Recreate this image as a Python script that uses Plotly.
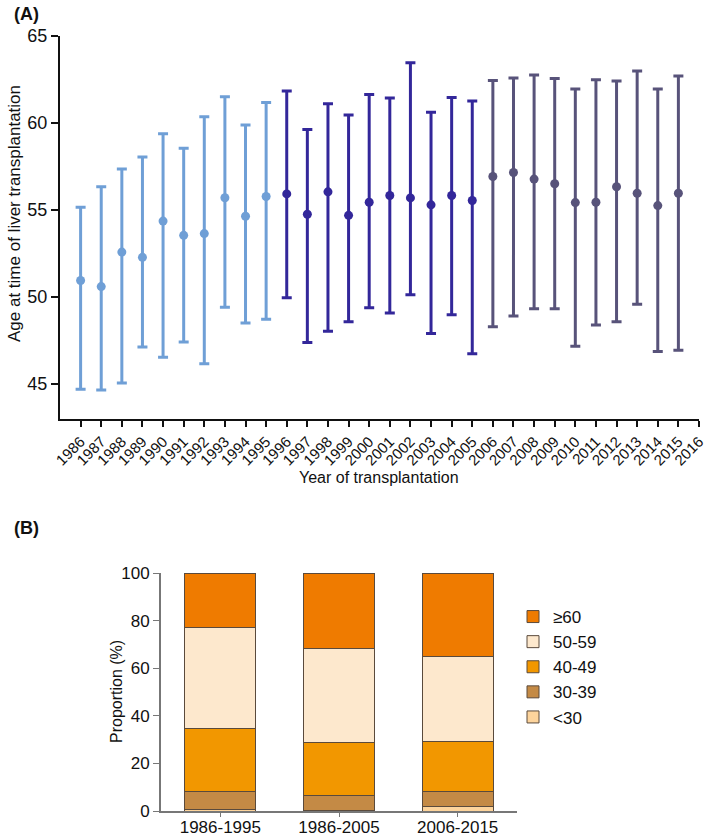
import plotly.graph_objects as go

# ---------------- Panel A data ----------------
years = list(range(1986, 2016))
mean_age = [50.95, 50.60, 52.58, 52.28, 54.36, 53.54, 53.64, 55.70, 54.64, 55.77,
            55.92, 54.75, 56.04, 54.69, 55.44, 55.83, 55.69, 55.29, 55.83, 55.54,
            56.92, 57.15, 56.77, 56.50, 55.42, 55.44, 56.33, 55.96, 55.25, 55.96]
upper_age = [55.15, 56.33, 57.35, 58.04, 59.37, 58.54, 60.35, 61.50, 59.87, 61.17,
             61.83, 59.62, 61.10, 60.45, 61.62, 61.42, 63.45, 60.60, 61.45, 61.25,
             62.43, 62.57, 62.74, 62.55, 61.94, 62.47, 62.40, 62.98, 61.94, 62.68]
lower_age = [44.71, 44.67, 45.06, 47.13, 46.55, 47.42, 46.17, 49.41, 48.51, 48.72,
             49.96, 47.39, 48.03, 48.58, 49.39, 49.08, 50.13, 47.91, 48.98, 46.74,
             48.30, 48.91, 49.33, 49.33, 47.18, 48.39, 48.58, 49.58, 46.88, 46.95]
tick_years = list(range(1986, 2017))
group_colors = ["#6f9fd6", "#33279a", "#58537a"]

# ---------------- Panel B data ----------------
periods = ["1986-1995", "1986-2005", "2006-2015"]
age_groups = ["<30", "30-39", "40-49", "50-59", "≥60"]
pct_lt30 = [0.7, 0.3, 2.0]
pct_30_39 = [7.3, 6.3, 6.4]
pct_40_49 = [26.7, 22.1, 20.8]
pct_50_59 = [42.4, 39.6, 35.6]
pct_ge60 = [22.9, 31.7, 35.2]
bar_colors = ["#fdd49c", "#c48a45", "#f29700", "#fde8cd", "#ef7b00"]

W, H = 709, 837
FONT = "Liberation Sans, Arial, Helvetica, sans-serif"

fig = go.Figure()

for g in range(3):
    sl = slice(g * 10, g * 10 + 10)
    xs = years[sl]
    ms = mean_age[sl]
    up = [u - m for u, m in zip(upper_age[sl], ms)]
    lo = [m - l for m, l in zip(ms, lower_age[sl])]
    fig.add_trace(go.Scatter(
        x=xs, y=ms, mode="markers",
        marker=dict(color=group_colors[g], size=9),
        error_y=dict(type="data", symmetric=False, array=up, arrayminus=lo,
                     color=group_colors[g], thickness=3, width=5),
        showlegend=False, xaxis="x", yaxis="y"))

stack = [pct_lt30, pct_30_39, pct_40_49, pct_50_59, pct_ge60]
for name, vals, col in zip(age_groups, stack, bar_colors):
    fig.add_trace(go.Bar(
        x=periods, y=vals, name=name, width=0.6,
        marker=dict(color=col, line=dict(color="#5a4a3c", width=1)),
        xaxis="x2", yaxis="y2"))

def px_x(p):
    return p / W

def px_y(p):
    return 1 - p / H

fig.update_layout(
    template="none",
    width=W, height=H, margin=dict(l=0, r=0, t=0, b=0, autoexpand=False),
    paper_bgcolor="white", plot_bgcolor="white",
    font=dict(family=FONT, color="#111111"),
    barmode="stack",
    xaxis=dict(domain=[px_x(60), px_x(699)], range=[1985, 2016],
               tickmode="array", tickvals=tick_years,
               ticktext=[str(y) for y in tick_years],
               tickangle=-45, tickfont=dict(size=15),
               showline=True, linecolor="#111111", linewidth=2,
               ticks="outside", ticklen=6, tickwidth=1.5, tickcolor="#111111",
               showgrid=False, zeroline=False, anchor="y", automargin=False),
    yaxis=dict(domain=[px_y(419), px_y(35.7)], range=[43, 65],
               tickvals=[45, 50, 55, 60, 65], tickfont=dict(size=18),
               showline=True, linecolor="#111111", linewidth=2,
               ticks="outside", ticklen=7, tickwidth=1.5, tickcolor="#111111",
               showgrid=False, zeroline=False, anchor="x", automargin=False),
    xaxis2=dict(domain=[px_x(161), px_x(517)], range=[-0.5, 2.5],
                tickfont=dict(size=17), ticklabelstandoff=-4,
                showline=True, linecolor="#777777", linewidth=2,
                ticks="outside", ticklen=4, tickcolor="#777777",
                showgrid=False, zeroline=False, anchor="y2", automargin=False),
    yaxis2=dict(domain=[px_y(811), px_y(573)], range=[0, 100],
                tickvals=[0, 20, 40, 60, 80, 100], tickfont=dict(size=17),
                showline=True, linecolor="#777777", linewidth=2,
                ticks="outside", ticklen=6, tickcolor="#777777",
                showgrid=False, zeroline=False, anchor="x2", automargin=False),
    legend=dict(x=px_x(513), y=px_y(599), xanchor="left", yanchor="top",
                traceorder="reversed", font=dict(size=17),
                bgcolor="rgba(0,0,0,0)", itemwidth=30, tracegroupgap=0),
    annotations=[
        dict(text="<b>(A)</b>", x=px_x(12), y=px_y(14), xref="paper", yref="paper",
             xanchor="left", yanchor="middle", showarrow=False, font=dict(size=18)),
        dict(text="<b>(B)</b>", x=px_x(12), y=px_y(528), xref="paper", yref="paper",
             xanchor="left", yanchor="middle", showarrow=False, font=dict(size=18)),
        dict(text="Age at time of liver transplantation", textangle=-90,
             x=px_x(14), y=px_y(214), xref="paper", yref="paper",
             xanchor="center", yanchor="middle", showarrow=False, font=dict(size=17)),
        dict(text="Year of transplantation",
             x=px_x(379), y=px_y(477), xref="paper", yref="paper",
             xanchor="center", yanchor="middle", showarrow=False, font=dict(size=16)),
        dict(text="Proportion (%)", textangle=-90,
             x=px_x(116), y=px_y(692), xref="paper", yref="paper",
             xanchor="center", yanchor="middle", showarrow=False, font=dict(size=16)),
    ],
)

fig.write_html(
    "out.html",
    config={"displayModeBar": False},
    post_script="document.body.style.margin='0px';document.body.style.overflow='hidden';",
)
